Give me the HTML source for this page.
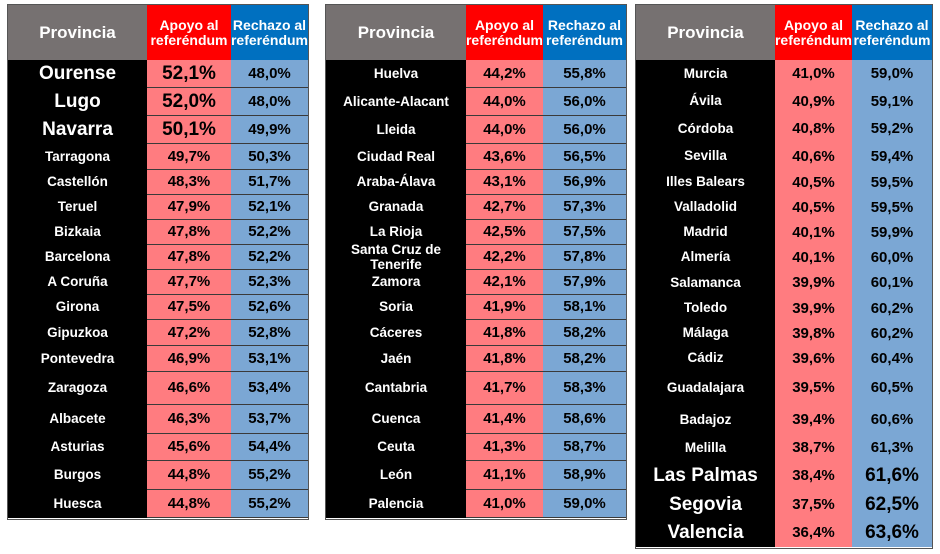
<!DOCTYPE html>
<html><head><meta charset="utf-8">
<style>
body{margin:0;background:#fff;width:940px;height:554px;position:relative;overflow:hidden;font-family:"Liberation Sans Narrow","Liberation Sans",sans-serif;font-weight:bold}
.c{position:absolute;display:flex;align-items:center;justify-content:center;box-sizing:border-box;text-align:center;line-height:1.05}
.h{color:#fff;font-size:15px}
</style></head><body>
<div id="root"></div>
<script>
const t1Names=["Ourense","Lugo","Navarra","Tarragona","Castellón","Teruel","Bizkaia","Barcelona","A Coruña","Girona","Gipuzkoa","Pontevedra","Zaragoza","Albacete","Asturias","Burgos","Huesca"];
const t1Apoyo=["52,1%","52,0%","50,1%","49,7%","48,3%","47,9%","47,8%","47,8%","47,7%","47,5%","47,2%","46,9%","46,6%","46,3%","45,6%","44,8%","44,8%"];
const t1Rechazo=["48,0%","48,0%","49,9%","50,3%","51,7%","52,1%","52,2%","52,2%","52,3%","52,6%","52,8%","53,1%","53,4%","53,7%","54,4%","55,2%","55,2%"];
const t2Names=["Huelva","Alicante-Alacant","Lleida","Ciudad Real","Araba-Álava","Granada","La Rioja","Santa Cruz de Tenerife","Zamora","Soria","Cáceres","Jaén","Cantabria","Cuenca","Ceuta","León","Palencia"];
const t2Apoyo=["44,2%","44,0%","44,0%","43,6%","43,1%","42,7%","42,5%","42,2%","42,1%","41,9%","41,8%","41,8%","41,7%","41,4%","41,3%","41,1%","41,0%"];
const t2Rechazo=["55,8%","56,0%","56,0%","56,5%","56,9%","57,3%","57,5%","57,8%","57,9%","58,1%","58,2%","58,2%","58,3%","58,6%","58,7%","58,9%","59,0%"];
const t3Names=["Murcia","Ávila","Córdoba","Sevilla","Illes Balears","Valladolid","Madrid","Almería","Salamanca","Toledo","Málaga","Cádiz","Guadalajara","Badajoz","Melilla","Las Palmas","Segovia","Valencia"];
const t3Apoyo=["41,0%","40,9%","40,8%","40,6%","40,5%","40,5%","40,1%","40,1%","39,9%","39,9%","39,8%","39,6%","39,5%","39,4%","38,7%","38,4%","37,5%","36,4%"];
const t3Rechazo=["59,0%","59,1%","59,2%","59,4%","59,5%","59,5%","59,9%","60,0%","60,1%","60,2%","60,2%","60,4%","60,5%","60,6%","61,3%","61,6%","62,5%","63,6%"];

const rows12=[60,88,116,144,170,195,220,245,270,295,320,346,372,405,434,461,490,518];
const rows3=[60,88,115,143,170,195,220,245,270,296,321,346,371,405,435,461,491,519,547];
const root=document.getElementById('root');
function cell(x,y,w,h,txt,bg,color,fs,border,name){
  const d=document.createElement('div');
  d.className='c';
  d.style.left=x+'px';d.style.top=y+'px';d.style.width=w+'px';d.style.height=h+'px';
  d.style.background=bg;d.style.color=color;d.style.fontSize=fs+'px';
  if(border)d.style.borderBottom=border;
  d.innerHTML=txt;
  
  
  root.appendChild(d);
}
function table(xs,names,ap,re,rows,bigTop,bigBottom,lines,idx){
  const top=5;
  cell(xs[0],top,xs[1]-xs[0],55,'Provincia','#767171','#fff',17,null,'header-provincia');
  cell(xs[1],top,xs[2]-xs[1],55,'Apoyo al<br>referéndum','#ff0000','#fff',14,null,'header-apoyo');
  cell(xs[2],top,xs[3]-xs[2],55,'Rechazo al<br>referéndum','#0070c0','#fff',14,null,'header-rechazo');
  for(let i=0;i<names.length;i++){
    const y=rows[i],h=rows[i+1]-rows[i];
    const big=(bigTop&&i<3)||(bigBottom&&i>=names.length-3);
    const b=lines?'1px solid #3a3a3a':null;
    cell(xs[0],y,xs[1]-xs[0],h,names[i],'#000','#fff',big?19:13.5,null,'province-name');
    cell(xs[1],y,xs[2]-xs[1],h,ap[i],'#ff7c80','#000',(bigTop&&i<3)?19:15,b,'apoyo-value');
    cell(xs[2],y,xs[3]-xs[2],h,re[i],'#7ba7d4','#000',(bigBottom&&i>=names.length-3)?19:15,b,'rechazo-value');
  }
  const f=document.createElement('div');
  f.style.cssText='position:absolute;left:'+(xs[0]-1)+'px;top:4px;width:'+(xs[3]-xs[0])+'px;height:'+(rows[rows.length-1]-4)+'px;border:1px solid #555;pointer-events:none';
  
  
  root.appendChild(f);
}
table([8,147,231,308],t1Names,t1Apoyo,t1Rechazo,rows12,true,false,true,1);
table([326,466,543,626],t2Names,t2Apoyo,t2Rechazo,rows12,false,false,true,2);
table([636,775,852,932],t3Names,t3Apoyo,t3Rechazo,rows3,false,true,false,3);
</script>
</body></html>
